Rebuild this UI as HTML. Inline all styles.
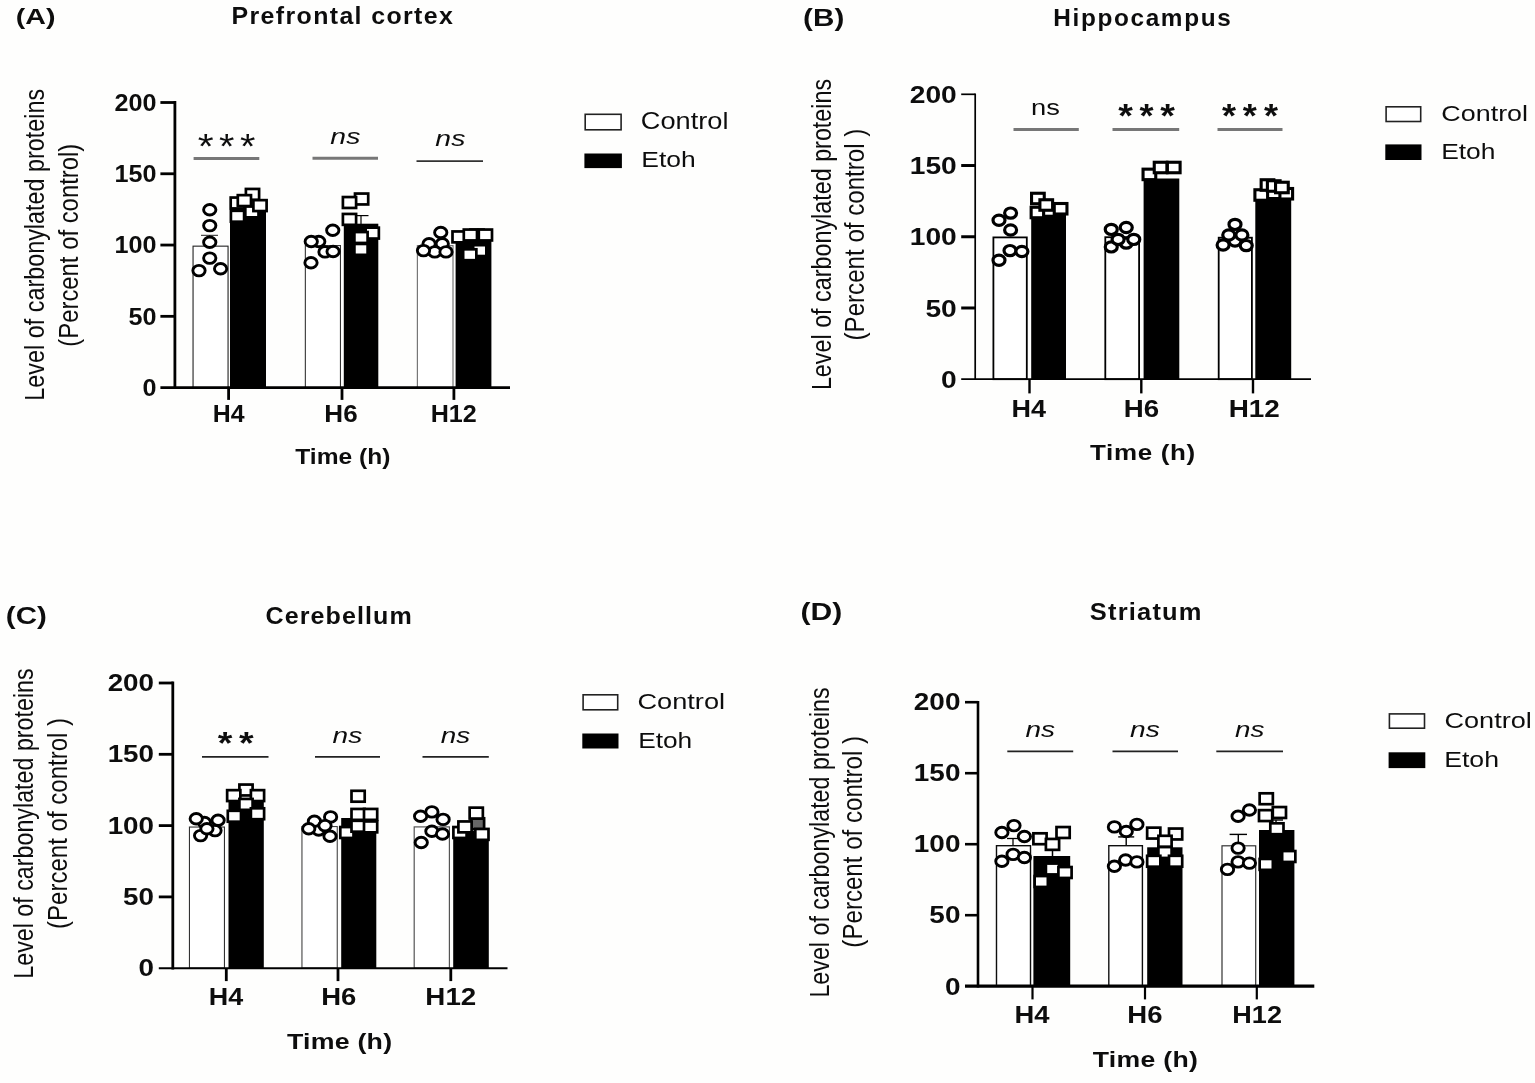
<!DOCTYPE html>
<html><head><meta charset="utf-8"><title>Level of carbonylated proteins</title>
<style>
html,body{margin:0;padding:0;background:#fefefd;}
body{width:1535px;height:1083px;overflow:hidden;}
svg{display:block;}
text{font-family:"Liberation Sans",sans-serif;font-size:100px;fill:#111;font-kerning:normal;}
text.b{font-weight:bold;}
text.i{font-style:italic;}
</style></head><body>
<svg width="1535" height="1083" viewBox="0 0 1535 1083">
<defs><filter id="soft" x="0" y="0" width="1535" height="1083" filterUnits="userSpaceOnUse"><feGaussianBlur stdDeviation="0.55"/></filter></defs>
<rect x="0" y="0" width="1535" height="1083" fill="#fefefd"/>
<g filter="url(#soft)">
<rect x="193.05" y="246.15" width="35.00" height="141.45" fill="#fff" stroke="#222" stroke-width="1.1"/>
<rect x="230.00" y="206.00" width="36.00" height="181.60" fill="#000" stroke="none" stroke-width="0"/>
<rect x="305.35" y="245.55" width="35.10" height="142.05" fill="#fff" stroke="#333" stroke-width="1.1"/>
<rect x="343.80" y="223.70" width="34.50" height="163.90" fill="#000" stroke="none" stroke-width="0"/>
<rect x="417.40" y="245.60" width="35.60" height="142.00" fill="#fff" stroke="#777" stroke-width="1.2"/>
<rect x="455.60" y="240.00" width="35.80" height="147.60" fill="#000" stroke="none" stroke-width="0"/>
<line x1="209.50" y1="235.30" x2="209.50" y2="245.60" stroke="#222" stroke-width="1.0" stroke-linecap="butt"/>
<line x1="201.00" y1="235.30" x2="218.00" y2="235.30" stroke="#222" stroke-width="1.0" stroke-linecap="butt"/>
<line x1="361.00" y1="215.60" x2="361.00" y2="224.00" stroke="#000" stroke-width="1.2" stroke-linecap="butt"/>
<line x1="353.50" y1="215.60" x2="368.50" y2="215.60" stroke="#000" stroke-width="1.2" stroke-linecap="butt"/>
<line x1="174.90" y1="101.10" x2="174.90" y2="389.00" stroke="#000" stroke-width="2.8" stroke-linecap="butt"/>
<line x1="160.40" y1="387.60" x2="510.00" y2="387.60" stroke="#000" stroke-width="2.8" stroke-linecap="butt"/>
<line x1="160.40" y1="316.33" x2="174.90" y2="316.33" stroke="#000" stroke-width="2.8" stroke-linecap="butt"/>
<line x1="160.40" y1="245.05" x2="174.90" y2="245.05" stroke="#000" stroke-width="2.8" stroke-linecap="butt"/>
<line x1="160.40" y1="173.77" x2="174.90" y2="173.77" stroke="#000" stroke-width="2.8" stroke-linecap="butt"/>
<line x1="160.40" y1="102.50" x2="174.90" y2="102.50" stroke="#000" stroke-width="2.8" stroke-linecap="butt"/>
<line x1="228.60" y1="387.60" x2="228.60" y2="399.90" stroke="#000" stroke-width="2.8" stroke-linecap="butt"/>
<line x1="342.00" y1="387.60" x2="342.00" y2="399.90" stroke="#000" stroke-width="2.8" stroke-linecap="butt"/>
<line x1="453.90" y1="387.60" x2="453.90" y2="399.90" stroke="#000" stroke-width="2.8" stroke-linecap="butt"/>
<ellipse cx="209.75" cy="209.75" rx="6.15" ry="5.25" fill="#fff" stroke="#000" stroke-width="2.9"/>
<ellipse cx="209.75" cy="225.60" rx="6.15" ry="5.25" fill="#fff" stroke="#000" stroke-width="2.9"/>
<ellipse cx="209.75" cy="242.25" rx="6.15" ry="5.25" fill="#fff" stroke="#000" stroke-width="2.9"/>
<ellipse cx="209.75" cy="258.10" rx="6.15" ry="5.25" fill="#fff" stroke="#000" stroke-width="2.9"/>
<ellipse cx="199.00" cy="270.60" rx="6.15" ry="5.25" fill="#fff" stroke="#000" stroke-width="2.9"/>
<ellipse cx="220.60" cy="268.75" rx="6.15" ry="5.25" fill="#fff" stroke="#000" stroke-width="2.9"/>
<rect x="230.70" y="197.55" width="13.20" height="10.90" fill="#fff" stroke="#000" stroke-width="2.7"/>
<rect x="245.30" y="206.45" width="13.20" height="10.90" fill="#fff" stroke="#000" stroke-width="2.7"/>
<rect x="245.90" y="188.95" width="13.20" height="10.90" fill="#fff" stroke="#000" stroke-width="2.7"/>
<rect x="237.80" y="195.15" width="13.20" height="10.90" fill="#fff" stroke="#000" stroke-width="2.7"/>
<rect x="253.40" y="200.15" width="13.20" height="10.90" fill="#fff" stroke="#000" stroke-width="2.7"/>
<rect x="230.90" y="210.80" width="13.20" height="10.90" fill="#fff" stroke="#000" stroke-width="2.7"/>
<ellipse cx="318.75" cy="241.50" rx="6.15" ry="5.25" fill="#fff" stroke="#000" stroke-width="2.9"/>
<ellipse cx="332.75" cy="230.25" rx="6.15" ry="5.25" fill="#fff" stroke="#000" stroke-width="2.9"/>
<ellipse cx="311.25" cy="241.50" rx="6.15" ry="5.25" fill="#fff" stroke="#000" stroke-width="2.9"/>
<ellipse cx="325.00" cy="251.90" rx="6.15" ry="5.25" fill="#fff" stroke="#000" stroke-width="2.9"/>
<ellipse cx="333.10" cy="251.50" rx="6.15" ry="5.25" fill="#fff" stroke="#000" stroke-width="2.9"/>
<ellipse cx="311.00" cy="262.75" rx="6.15" ry="5.25" fill="#fff" stroke="#000" stroke-width="2.9"/>
<rect x="355.00" y="193.55" width="13.20" height="10.90" fill="#fff" stroke="#000" stroke-width="2.7"/>
<rect x="342.90" y="197.05" width="13.20" height="10.90" fill="#fff" stroke="#000" stroke-width="2.7"/>
<rect x="342.90" y="213.95" width="13.20" height="10.90" fill="#fff" stroke="#000" stroke-width="2.7"/>
<rect x="365.65" y="227.65" width="13.20" height="10.90" fill="#fff" stroke="#000" stroke-width="2.7"/>
<rect x="354.40" y="232.05" width="13.20" height="10.90" fill="#fff" stroke="#000" stroke-width="2.7"/>
<rect x="354.40" y="243.95" width="13.20" height="10.90" fill="#fff" stroke="#000" stroke-width="2.7"/>
<ellipse cx="442.25" cy="243.75" rx="6.15" ry="5.25" fill="#fff" stroke="#000" stroke-width="2.9"/>
<ellipse cx="440.75" cy="232.50" rx="6.15" ry="5.25" fill="#fff" stroke="#000" stroke-width="2.9"/>
<ellipse cx="429.10" cy="243.75" rx="6.15" ry="5.25" fill="#fff" stroke="#000" stroke-width="2.9"/>
<ellipse cx="434.75" cy="251.90" rx="6.15" ry="5.25" fill="#fff" stroke="#000" stroke-width="2.9"/>
<ellipse cx="423.50" cy="250.60" rx="6.15" ry="5.25" fill="#fff" stroke="#000" stroke-width="2.9"/>
<ellipse cx="446.00" cy="251.90" rx="6.15" ry="5.25" fill="#fff" stroke="#000" stroke-width="2.9"/>
<rect x="452.50" y="231.45" width="13.20" height="10.90" fill="#fff" stroke="#000" stroke-width="2.7"/>
<rect x="470.40" y="229.55" width="13.20" height="10.90" fill="#fff" stroke="#000" stroke-width="2.7"/>
<rect x="463.80" y="229.55" width="13.20" height="10.90" fill="#fff" stroke="#000" stroke-width="2.7"/>
<rect x="478.80" y="229.55" width="13.20" height="10.90" fill="#fff" stroke="#000" stroke-width="2.7"/>
<rect x="473.15" y="245.15" width="13.20" height="10.90" fill="#fff" stroke="#000" stroke-width="2.7"/>
<rect x="463.15" y="249.30" width="13.20" height="10.90" fill="#fff" stroke="#000" stroke-width="2.7"/>
<line x1="193.60" y1="158.50" x2="259.30" y2="158.50" stroke="#777" stroke-width="3" stroke-linecap="butt"/>
<line x1="312.50" y1="158.30" x2="378.00" y2="158.30" stroke="#777" stroke-width="3" stroke-linecap="butt"/>
<line x1="416.50" y1="161.20" x2="483.00" y2="161.20" stroke="#333" stroke-width="1.8" stroke-linecap="butt"/>
<rect x="585.20" y="114.30" width="35.90" height="15.50" fill="#fff" stroke="#222" stroke-width="1.6"/>
<rect x="584.40" y="153.50" width="37.50" height="14.60" fill="#000" stroke="none" stroke-width="0"/>
<text transform="translate(15.86,23.56) scale(0.2858,0.2214)" class="b">(A)</text>
<text transform="translate(231.54,24.23) scale(0.2492,0.2373)" letter-spacing="5.49" class="b">Prefrontal cortex</text>
<text transform="translate(212.75,422.40) scale(0.2487,0.2361)" class="b">H4</text>
<text transform="translate(324.37,422.40) scale(0.2603,0.2361)" class="b">H6</text>
<text transform="translate(430.73,422.40) scale(0.2513,0.2361)" class="b">H12</text>
<text transform="translate(295.30,464.07) scale(0.2457,0.2256)" class="b">Time (h)</text>
<text transform="translate(197.66,157.55) scale(0.4090,0.3520)">*</text>
<text transform="translate(218.88,157.55) scale(0.3951,0.3520)">*</text>
<text transform="translate(240.08,157.55) scale(0.3951,0.3520)">*</text>
<text transform="translate(330.36,144.05) scale(0.2839,0.2240)" class="i">ns</text>
<text transform="translate(435.36,145.95) scale(0.2839,0.2258)" class="i">ns</text>
<text transform="translate(640.83,129.44) scale(0.2720,0.2320)">Control</text>
<text transform="translate(641.23,167.16) scale(0.2647,0.2147)">Etoh</text>
<text transform="translate(43.70,400.63) rotate(-90) scale(0.2338,0.2785)">Level of carbonylated proteins</text>
<text transform="translate(77.50,346.72) rotate(-90) scale(0.2388,0.2757)">(Percent of control)</text>
<text transform="translate(114.51,110.63) scale(0.2518,0.2365)" class="b">200</text>
<text transform="translate(114.51,182.13) scale(0.2518,0.2365)" class="b">150</text>
<text transform="translate(114.51,253.43) scale(0.2518,0.2365)" class="b">100</text>
<text transform="translate(128.52,325.13) scale(0.2518,0.2365)" class="b">50</text>
<text transform="translate(142.52,395.73) scale(0.2518,0.2365)" class="b">0</text>
<rect x="993.40" y="237.40" width="33.40" height="141.80" fill="#fff" stroke="#000" stroke-width="1.8"/>
<rect x="1031.20" y="210.00" width="34.80" height="169.20" fill="#000" stroke="none" stroke-width="0"/>
<rect x="1105.30" y="237.20" width="33.80" height="142.00" fill="#fff" stroke="#000" stroke-width="1.8"/>
<rect x="1143.60" y="178.50" width="35.70" height="200.70" fill="#000" stroke="none" stroke-width="0"/>
<rect x="1218.70" y="237.70" width="33.20" height="141.50" fill="#fff" stroke="#000" stroke-width="1.8"/>
<rect x="1255.30" y="197.00" width="35.90" height="182.20" fill="#000" stroke="none" stroke-width="0"/>
<line x1="975.20" y1="93.45" x2="975.20" y2="380.05" stroke="#000" stroke-width="1.7" stroke-linecap="butt"/>
<line x1="961.20" y1="379.20" x2="1311.00" y2="379.20" stroke="#000" stroke-width="1.7" stroke-linecap="butt"/>
<line x1="961.20" y1="307.98" x2="975.20" y2="307.98" stroke="#000" stroke-width="3" stroke-linecap="butt"/>
<line x1="961.20" y1="236.75" x2="975.20" y2="236.75" stroke="#000" stroke-width="3" stroke-linecap="butt"/>
<line x1="961.20" y1="165.53" x2="975.20" y2="165.53" stroke="#000" stroke-width="3" stroke-linecap="butt"/>
<line x1="961.20" y1="94.30" x2="975.20" y2="94.30" stroke="#000" stroke-width="1.7" stroke-linecap="butt"/>
<line x1="1029.50" y1="379.20" x2="1029.50" y2="393.40" stroke="#000" stroke-width="2.4" stroke-linecap="butt"/>
<line x1="1141.30" y1="379.20" x2="1141.30" y2="393.40" stroke="#000" stroke-width="2.4" stroke-linecap="butt"/>
<line x1="1253.00" y1="379.20" x2="1253.00" y2="393.40" stroke="#000" stroke-width="2.4" stroke-linecap="butt"/>
<ellipse cx="1010.60" cy="213.10" rx="6.00" ry="5.10" fill="#fff" stroke="#000" stroke-width="3.2"/>
<ellipse cx="999.00" cy="220.25" rx="6.00" ry="5.10" fill="#fff" stroke="#000" stroke-width="3.2"/>
<ellipse cx="1010.60" cy="230.00" rx="6.00" ry="5.10" fill="#fff" stroke="#000" stroke-width="3.2"/>
<ellipse cx="1010.00" cy="250.60" rx="6.00" ry="5.10" fill="#fff" stroke="#000" stroke-width="3.2"/>
<ellipse cx="1021.90" cy="251.50" rx="6.00" ry="5.10" fill="#fff" stroke="#000" stroke-width="3.2"/>
<ellipse cx="999.00" cy="260.25" rx="6.00" ry="5.10" fill="#fff" stroke="#000" stroke-width="3.2"/>
<rect x="1031.15" y="207.25" width="12.70" height="10.50" fill="#fff" stroke="#000" stroke-width="3.1"/>
<rect x="1043.65" y="205.75" width="12.70" height="10.50" fill="#fff" stroke="#000" stroke-width="3.1"/>
<rect x="1031.55" y="193.25" width="12.70" height="10.50" fill="#fff" stroke="#000" stroke-width="3.1"/>
<rect x="1039.90" y="199.75" width="12.70" height="10.50" fill="#fff" stroke="#000" stroke-width="3.1"/>
<rect x="1054.25" y="203.50" width="12.70" height="10.50" fill="#fff" stroke="#000" stroke-width="3.1"/>
<ellipse cx="1126.25" cy="243.10" rx="6.00" ry="5.10" fill="#fff" stroke="#000" stroke-width="3.2"/>
<ellipse cx="1111.25" cy="246.90" rx="6.00" ry="5.10" fill="#fff" stroke="#000" stroke-width="3.2"/>
<ellipse cx="1133.75" cy="239.40" rx="6.00" ry="5.10" fill="#fff" stroke="#000" stroke-width="3.2"/>
<ellipse cx="1111.25" cy="229.40" rx="6.00" ry="5.10" fill="#fff" stroke="#000" stroke-width="3.2"/>
<ellipse cx="1126.25" cy="227.50" rx="6.00" ry="5.10" fill="#fff" stroke="#000" stroke-width="3.2"/>
<ellipse cx="1118.10" cy="239.40" rx="6.00" ry="5.10" fill="#fff" stroke="#000" stroke-width="3.2"/>
<rect x="1143.05" y="169.15" width="12.70" height="10.50" fill="#fff" stroke="#000" stroke-width="3.1"/>
<rect x="1154.25" y="162.25" width="12.70" height="10.50" fill="#fff" stroke="#000" stroke-width="3.1"/>
<rect x="1167.40" y="162.25" width="12.70" height="10.50" fill="#fff" stroke="#000" stroke-width="3.1"/>
<ellipse cx="1235.00" cy="241.00" rx="6.00" ry="5.10" fill="#fff" stroke="#000" stroke-width="3.2"/>
<ellipse cx="1223.10" cy="245.00" rx="6.00" ry="5.10" fill="#fff" stroke="#000" stroke-width="3.2"/>
<ellipse cx="1246.25" cy="245.60" rx="6.00" ry="5.10" fill="#fff" stroke="#000" stroke-width="3.2"/>
<ellipse cx="1228.75" cy="235.00" rx="6.00" ry="5.10" fill="#fff" stroke="#000" stroke-width="3.2"/>
<ellipse cx="1241.90" cy="235.00" rx="6.00" ry="5.10" fill="#fff" stroke="#000" stroke-width="3.2"/>
<ellipse cx="1235.00" cy="224.40" rx="6.00" ry="5.10" fill="#fff" stroke="#000" stroke-width="3.2"/>
<rect x="1254.90" y="189.75" width="12.70" height="10.50" fill="#fff" stroke="#000" stroke-width="3.1"/>
<rect x="1279.90" y="188.50" width="12.70" height="10.50" fill="#fff" stroke="#000" stroke-width="3.1"/>
<rect x="1261.15" y="179.75" width="12.70" height="10.50" fill="#fff" stroke="#000" stroke-width="3.1"/>
<rect x="1267.40" y="180.75" width="12.70" height="10.50" fill="#fff" stroke="#000" stroke-width="3.1"/>
<rect x="1275.55" y="182.25" width="12.70" height="10.50" fill="#fff" stroke="#000" stroke-width="3.1"/>
<line x1="1013.50" y1="129.60" x2="1078.80" y2="129.60" stroke="#777" stroke-width="3" stroke-linecap="butt"/>
<line x1="1112.50" y1="129.60" x2="1179.20" y2="129.60" stroke="#777" stroke-width="3" stroke-linecap="butt"/>
<line x1="1217.50" y1="129.60" x2="1282.50" y2="129.60" stroke="#777" stroke-width="3" stroke-linecap="butt"/>
<rect x="1386.10" y="106.80" width="34.60" height="14.70" fill="#fff" stroke="#222" stroke-width="1.6"/>
<rect x="1385.30" y="144.40" width="36.20" height="15.60" fill="#000" stroke="none" stroke-width="0"/>
<text transform="translate(803.11,26.28) scale(0.2965,0.2434)" class="b">(B)</text>
<text transform="translate(1053.28,25.53) scale(0.2435,0.2319)" letter-spacing="6.79" class="b">Hippocampus</text>
<text transform="translate(1011.61,416.60) scale(0.2700,0.2418)" class="b">H4</text>
<text transform="translate(1123.77,416.60) scale(0.2771,0.2418)" class="b">H6</text>
<text transform="translate(1228.65,416.60) scale(0.2793,0.2418)" class="b">H12</text>
<text transform="translate(1090.00,460.08) scale(0.2600,0.2203)" letter-spacing="2.59" class="b">Time (h)</text>
<text transform="translate(1030.99,115.05) scale(0.2733,0.2258)">ns</text>
<text transform="translate(1118.30,127.46) scale(0.3763,0.3251)" class="b">*</text>
<text transform="translate(1139.50,127.46) scale(0.3610,0.3251)" class="b">*</text>
<text transform="translate(1160.20,127.46) scale(0.3763,0.3251)" class="b">*</text>
<text transform="translate(1222.00,127.46) scale(0.3610,0.3251)" class="b">*</text>
<text transform="translate(1242.70,127.46) scale(0.3610,0.3251)" class="b">*</text>
<text transform="translate(1263.90,127.46) scale(0.3610,0.3251)" class="b">*</text>
<text transform="translate(1441.34,120.54) scale(0.2691,0.2293)">Control</text>
<text transform="translate(1441.14,158.95) scale(0.2642,0.2213)">Etoh</text>
<text transform="translate(831.10,390.12) rotate(-90) scale(0.2334,0.2757)">Level of carbonylated proteins</text>
<text transform="translate(864.00,340.43) rotate(-90) scale(0.2412,0.2757)">(Percent of control )</text>
<text transform="translate(909.72,102.81) scale(0.2818,0.2477)" class="b">200</text>
<text transform="translate(909.72,174.11) scale(0.2818,0.2477)" class="b">150</text>
<text transform="translate(909.72,245.31) scale(0.2818,0.2477)" class="b">100</text>
<text transform="translate(925.39,316.51) scale(0.2818,0.2477)" class="b">50</text>
<text transform="translate(941.07,387.81) scale(0.2818,0.2477)" class="b">0</text>
<rect x="189.45" y="827.05" width="35.00" height="141.15" fill="#fff" stroke="#333" stroke-width="1.1"/>
<rect x="228.50" y="801.00" width="35.30" height="167.20" fill="#000" stroke="none" stroke-width="0"/>
<rect x="301.95" y="826.55" width="35.30" height="141.65" fill="#fff" stroke="#444" stroke-width="1.1"/>
<rect x="341.20" y="818.00" width="35.10" height="150.20" fill="#000" stroke="none" stroke-width="0"/>
<rect x="414.20" y="826.90" width="35.20" height="141.30" fill="#fff" stroke="#555" stroke-width="1.2"/>
<rect x="453.20" y="831.00" width="35.60" height="137.20" fill="#000" stroke="none" stroke-width="0"/>
<line x1="172.80" y1="681.60" x2="172.80" y2="969.60" stroke="#000" stroke-width="2.8" stroke-linecap="butt"/>
<line x1="158.80" y1="968.20" x2="507.50" y2="968.20" stroke="#000" stroke-width="2.0" stroke-linecap="butt"/>
<line x1="158.80" y1="896.90" x2="172.80" y2="896.90" stroke="#000" stroke-width="2.8" stroke-linecap="butt"/>
<line x1="158.80" y1="825.60" x2="172.80" y2="825.60" stroke="#000" stroke-width="2.8" stroke-linecap="butt"/>
<line x1="158.80" y1="754.30" x2="172.80" y2="754.30" stroke="#000" stroke-width="2.8" stroke-linecap="butt"/>
<line x1="158.80" y1="683.00" x2="172.80" y2="683.00" stroke="#000" stroke-width="2.8" stroke-linecap="butt"/>
<line x1="226.30" y1="968.20" x2="226.30" y2="981.10" stroke="#000" stroke-width="2.8" stroke-linecap="butt"/>
<line x1="338.00" y1="968.20" x2="338.00" y2="981.10" stroke="#000" stroke-width="2.8" stroke-linecap="butt"/>
<line x1="450.80" y1="968.20" x2="450.80" y2="981.10" stroke="#000" stroke-width="2.8" stroke-linecap="butt"/>
<ellipse cx="215.00" cy="830.60" rx="6.15" ry="5.25" fill="#fff" stroke="#000" stroke-width="2.9"/>
<ellipse cx="204.40" cy="822.50" rx="6.15" ry="5.25" fill="#fff" stroke="#000" stroke-width="2.9"/>
<ellipse cx="200.60" cy="835.60" rx="6.15" ry="5.25" fill="#fff" stroke="#000" stroke-width="2.9"/>
<ellipse cx="196.25" cy="818.75" rx="6.15" ry="5.25" fill="#fff" stroke="#000" stroke-width="2.9"/>
<ellipse cx="218.10" cy="820.25" rx="6.15" ry="5.25" fill="#fff" stroke="#000" stroke-width="2.9"/>
<ellipse cx="206.90" cy="828.75" rx="6.15" ry="5.25" fill="#fff" stroke="#000" stroke-width="2.9"/>
<rect x="239.40" y="784.55" width="13.20" height="10.90" fill="#fff" stroke="#000" stroke-width="2.7"/>
<rect x="227.15" y="790.15" width="13.20" height="10.90" fill="#fff" stroke="#000" stroke-width="2.7"/>
<rect x="250.90" y="790.15" width="13.20" height="10.90" fill="#fff" stroke="#000" stroke-width="2.7"/>
<rect x="239.40" y="798.95" width="13.20" height="10.90" fill="#fff" stroke="#000" stroke-width="2.7"/>
<rect x="227.80" y="810.80" width="13.20" height="10.90" fill="#fff" stroke="#000" stroke-width="2.7"/>
<rect x="250.90" y="808.30" width="13.20" height="10.90" fill="#fff" stroke="#000" stroke-width="2.7"/>
<ellipse cx="318.75" cy="830.00" rx="6.15" ry="5.25" fill="#fff" stroke="#000" stroke-width="2.9"/>
<ellipse cx="314.40" cy="821.25" rx="6.15" ry="5.25" fill="#fff" stroke="#000" stroke-width="2.9"/>
<ellipse cx="308.75" cy="828.75" rx="6.15" ry="5.25" fill="#fff" stroke="#000" stroke-width="2.9"/>
<ellipse cx="330.60" cy="816.90" rx="6.15" ry="5.25" fill="#fff" stroke="#000" stroke-width="2.9"/>
<ellipse cx="330.00" cy="836.25" rx="6.15" ry="5.25" fill="#fff" stroke="#000" stroke-width="2.9"/>
<ellipse cx="325.00" cy="825.60" rx="6.15" ry="5.25" fill="#fff" stroke="#000" stroke-width="2.9"/>
<rect x="340.30" y="827.05" width="13.20" height="10.90" fill="#fff" stroke="#000" stroke-width="2.7"/>
<rect x="351.50" y="790.80" width="13.20" height="10.90" fill="#fff" stroke="#000" stroke-width="2.7"/>
<rect x="351.50" y="808.95" width="13.20" height="10.90" fill="#fff" stroke="#000" stroke-width="2.7"/>
<rect x="364.00" y="808.95" width="13.20" height="10.90" fill="#fff" stroke="#000" stroke-width="2.7"/>
<rect x="351.50" y="820.80" width="13.20" height="10.90" fill="#fff" stroke="#000" stroke-width="2.7"/>
<rect x="364.00" y="821.45" width="13.20" height="10.90" fill="#fff" stroke="#000" stroke-width="2.7"/>
<ellipse cx="431.90" cy="811.90" rx="6.15" ry="5.25" fill="#fff" stroke="#000" stroke-width="2.9"/>
<ellipse cx="420.60" cy="816.25" rx="6.15" ry="5.25" fill="#fff" stroke="#000" stroke-width="2.9"/>
<ellipse cx="443.10" cy="819.40" rx="6.15" ry="5.25" fill="#fff" stroke="#000" stroke-width="2.9"/>
<ellipse cx="431.90" cy="831.25" rx="6.15" ry="5.25" fill="#fff" stroke="#000" stroke-width="2.9"/>
<ellipse cx="442.50" cy="834.00" rx="6.15" ry="5.25" fill="#fff" stroke="#000" stroke-width="2.9"/>
<ellipse cx="421.25" cy="842.50" rx="6.15" ry="5.25" fill="#fff" stroke="#000" stroke-width="2.9"/>
<rect x="453.40" y="827.05" width="13.20" height="10.90" fill="#fff" stroke="#000" stroke-width="2.7"/>
<rect x="470.90" y="818.30" width="13.20" height="10.90" fill="#666" stroke="#000" stroke-width="2.7"/>
<rect x="469.65" y="807.65" width="13.20" height="10.90" fill="#fff" stroke="#000" stroke-width="2.7"/>
<rect x="458.40" y="821.45" width="13.20" height="10.90" fill="#fff" stroke="#000" stroke-width="2.7"/>
<rect x="475.30" y="828.95" width="13.20" height="10.90" fill="#fff" stroke="#000" stroke-width="2.7"/>
<line x1="202.00" y1="756.90" x2="268.50" y2="756.90" stroke="#222" stroke-width="1.8" stroke-linecap="butt"/>
<line x1="315.00" y1="756.90" x2="380.00" y2="756.90" stroke="#222" stroke-width="1.8" stroke-linecap="butt"/>
<line x1="422.50" y1="756.90" x2="488.80" y2="756.90" stroke="#222" stroke-width="1.8" stroke-linecap="butt"/>
<rect x="583.10" y="694.80" width="34.60" height="15.00" fill="#fff" stroke="#222" stroke-width="1.6"/>
<rect x="582.30" y="733.50" width="36.20" height="15.00" fill="#000" stroke="none" stroke-width="0"/>
<text transform="translate(5.82,623.56) scale(0.2950,0.2350)" class="b">(C)</text>
<text transform="translate(265.62,623.63) scale(0.2506,0.2387)" letter-spacing="4.27" class="b">Cerebellum</text>
<text transform="translate(208.82,1005.20) scale(0.2692,0.2389)" class="b">H4</text>
<text transform="translate(321.18,1005.20) scale(0.2746,0.2389)" class="b">H6</text>
<text transform="translate(425.36,1005.20) scale(0.2776,0.2389)" class="b">H12</text>
<text transform="translate(286.90,1048.64) scale(0.2674,0.2266)" letter-spacing="0.94" class="b">Time (h)</text>
<text transform="translate(217.70,754.48) scale(0.3763,0.3098)" class="b">*</text>
<text transform="translate(238.90,754.48) scale(0.3763,0.3098)" class="b">*</text>
<text transform="translate(332.56,742.94) scale(0.2810,0.2293)" class="i">ns</text>
<text transform="translate(440.76,742.94) scale(0.2791,0.2293)" class="i">ns</text>
<text transform="translate(637.43,708.95) scale(0.2720,0.2253)">Control</text>
<text transform="translate(638.14,747.65) scale(0.2632,0.2213)">Etoh</text>
<text transform="translate(33.40,978.72) rotate(-90) scale(0.2327,0.2771)">Level of carbonylated proteins</text>
<text transform="translate(66.70,928.93) rotate(-90) scale(0.2405,0.2785)">(Percent of control )</text>
<text transform="translate(107.63,690.88) scale(0.2781,0.2351)" class="b">200</text>
<text transform="translate(107.63,762.28) scale(0.2781,0.2351)" class="b">150</text>
<text transform="translate(107.63,833.58) scale(0.2781,0.2351)" class="b">100</text>
<text transform="translate(123.10,904.78) scale(0.2781,0.2351)" class="b">50</text>
<text transform="translate(138.56,976.18) scale(0.2781,0.2351)" class="b">0</text>
<rect x="996.50" y="845.70" width="34.00" height="140.50" fill="#fff" stroke="#111" stroke-width="1.4"/>
<rect x="1033.40" y="856.00" width="36.80" height="130.20" fill="#000" stroke="none" stroke-width="0"/>
<rect x="1108.80" y="845.70" width="33.60" height="140.50" fill="#fff" stroke="#111" stroke-width="1.4"/>
<rect x="1147.20" y="847.30" width="35.30" height="138.90" fill="#000" stroke="none" stroke-width="0"/>
<rect x="1222.00" y="845.80" width="33.70" height="140.40" fill="#fff" stroke="#333" stroke-width="1.2"/>
<rect x="1259.00" y="830.00" width="35.40" height="156.20" fill="#000" stroke="none" stroke-width="0"/>
<line x1="1013.00" y1="838.50" x2="1013.00" y2="845.00" stroke="#000" stroke-width="1.3" stroke-linecap="butt"/>
<line x1="1007.00" y1="838.50" x2="1019.00" y2="838.50" stroke="#000" stroke-width="1.3" stroke-linecap="butt"/>
<line x1="1052.50" y1="849.00" x2="1052.50" y2="856.00" stroke="#000" stroke-width="1.5" stroke-linecap="butt"/>
<line x1="1045.50" y1="849.00" x2="1059.50" y2="849.00" stroke="#000" stroke-width="1.5" stroke-linecap="butt"/>
<line x1="1126.20" y1="836.90" x2="1126.20" y2="845.00" stroke="#000" stroke-width="1.4" stroke-linecap="butt"/>
<line x1="1118.20" y1="836.90" x2="1134.20" y2="836.90" stroke="#000" stroke-width="1.4" stroke-linecap="butt"/>
<line x1="1238.30" y1="834.40" x2="1238.30" y2="845.20" stroke="#000" stroke-width="1.4" stroke-linecap="butt"/>
<line x1="1229.60" y1="834.40" x2="1247.00" y2="834.40" stroke="#000" stroke-width="1.4" stroke-linecap="butt"/>
<line x1="1276.00" y1="820.00" x2="1276.00" y2="830.00" stroke="#000" stroke-width="1.4" stroke-linecap="butt"/>
<line x1="1269.00" y1="820.00" x2="1283.00" y2="820.00" stroke="#000" stroke-width="1.4" stroke-linecap="butt"/>
<line x1="978.00" y1="700.90" x2="978.00" y2="987.50" stroke="#000" stroke-width="2.6" stroke-linecap="butt"/>
<line x1="965.00" y1="986.20" x2="1314.30" y2="986.20" stroke="#000" stroke-width="3.3" stroke-linecap="butt"/>
<line x1="965.00" y1="915.20" x2="978.00" y2="915.20" stroke="#000" stroke-width="2.6" stroke-linecap="butt"/>
<line x1="965.00" y1="844.20" x2="978.00" y2="844.20" stroke="#000" stroke-width="2.6" stroke-linecap="butt"/>
<line x1="965.00" y1="773.20" x2="978.00" y2="773.20" stroke="#000" stroke-width="2.6" stroke-linecap="butt"/>
<line x1="965.00" y1="702.20" x2="978.00" y2="702.20" stroke="#000" stroke-width="2.6" stroke-linecap="butt"/>
<line x1="1032.50" y1="986.20" x2="1032.50" y2="999.40" stroke="#000" stroke-width="2.2" stroke-linecap="butt"/>
<line x1="1145.00" y1="986.20" x2="1145.00" y2="999.40" stroke="#000" stroke-width="2.2" stroke-linecap="butt"/>
<line x1="1256.80" y1="986.20" x2="1256.80" y2="999.40" stroke="#000" stroke-width="2.2" stroke-linecap="butt"/>
<ellipse cx="1014.00" cy="825.60" rx="6.15" ry="5.25" fill="#fff" stroke="#000" stroke-width="2.9"/>
<ellipse cx="1001.90" cy="832.50" rx="6.15" ry="5.25" fill="#fff" stroke="#000" stroke-width="2.9"/>
<ellipse cx="1024.40" cy="836.50" rx="6.15" ry="5.25" fill="#fff" stroke="#000" stroke-width="2.9"/>
<ellipse cx="1013.10" cy="854.40" rx="6.15" ry="5.25" fill="#fff" stroke="#000" stroke-width="2.9"/>
<ellipse cx="1024.40" cy="857.50" rx="6.15" ry="5.25" fill="#fff" stroke="#000" stroke-width="2.9"/>
<ellipse cx="1001.90" cy="861.25" rx="6.15" ry="5.25" fill="#fff" stroke="#000" stroke-width="2.9"/>
<rect x="1033.40" y="833.30" width="13.20" height="10.90" fill="#fff" stroke="#000" stroke-width="2.7"/>
<rect x="1056.50" y="827.05" width="13.20" height="10.90" fill="#fff" stroke="#000" stroke-width="2.7"/>
<rect x="1045.90" y="838.95" width="13.20" height="10.90" fill="#fff" stroke="#000" stroke-width="2.7"/>
<rect x="1045.90" y="863.55" width="13.20" height="10.90" fill="#fff" stroke="#000" stroke-width="2.7"/>
<rect x="1058.40" y="867.05" width="13.20" height="10.90" fill="#fff" stroke="#000" stroke-width="2.7"/>
<rect x="1034.65" y="876.05" width="13.20" height="10.90" fill="#fff" stroke="#000" stroke-width="2.7"/>
<ellipse cx="1136.90" cy="824.40" rx="6.15" ry="5.25" fill="#fff" stroke="#000" stroke-width="2.9"/>
<ellipse cx="1114.40" cy="826.90" rx="6.15" ry="5.25" fill="#fff" stroke="#000" stroke-width="2.9"/>
<ellipse cx="1126.25" cy="831.50" rx="6.15" ry="5.25" fill="#fff" stroke="#000" stroke-width="2.9"/>
<ellipse cx="1125.60" cy="860.00" rx="6.15" ry="5.25" fill="#fff" stroke="#000" stroke-width="2.9"/>
<ellipse cx="1136.90" cy="861.90" rx="6.15" ry="5.25" fill="#fff" stroke="#000" stroke-width="2.9"/>
<ellipse cx="1114.40" cy="866.25" rx="6.15" ry="5.25" fill="#fff" stroke="#000" stroke-width="2.9"/>
<rect x="1147.15" y="827.65" width="13.20" height="10.90" fill="#fff" stroke="#000" stroke-width="2.7"/>
<rect x="1169.00" y="828.55" width="13.20" height="10.90" fill="#fff" stroke="#000" stroke-width="2.7"/>
<rect x="1158.40" y="847.05" width="13.20" height="10.90" fill="#fff" stroke="#000" stroke-width="2.7"/>
<rect x="1158.40" y="835.80" width="13.20" height="10.90" fill="#fff" stroke="#000" stroke-width="2.7"/>
<rect x="1147.15" y="855.80" width="13.20" height="10.90" fill="#fff" stroke="#000" stroke-width="2.7"/>
<rect x="1169.00" y="855.80" width="13.20" height="10.90" fill="#fff" stroke="#000" stroke-width="2.7"/>
<ellipse cx="1249.40" cy="810.00" rx="6.15" ry="5.25" fill="#fff" stroke="#000" stroke-width="2.9"/>
<ellipse cx="1238.10" cy="816.25" rx="6.15" ry="5.25" fill="#fff" stroke="#000" stroke-width="2.9"/>
<ellipse cx="1238.10" cy="861.90" rx="6.15" ry="5.25" fill="#fff" stroke="#000" stroke-width="2.9"/>
<ellipse cx="1238.10" cy="848.10" rx="6.15" ry="5.25" fill="#fff" stroke="#000" stroke-width="2.9"/>
<ellipse cx="1249.40" cy="863.10" rx="6.15" ry="5.25" fill="#fff" stroke="#000" stroke-width="2.9"/>
<ellipse cx="1227.50" cy="869.40" rx="6.15" ry="5.25" fill="#fff" stroke="#000" stroke-width="2.9"/>
<rect x="1259.65" y="793.30" width="13.20" height="10.90" fill="#fff" stroke="#000" stroke-width="2.7"/>
<rect x="1259.00" y="810.15" width="13.20" height="10.90" fill="#fff" stroke="#000" stroke-width="2.7"/>
<rect x="1272.80" y="807.05" width="13.20" height="10.90" fill="#fff" stroke="#000" stroke-width="2.7"/>
<rect x="1270.30" y="823.30" width="13.20" height="10.90" fill="#fff" stroke="#000" stroke-width="2.7"/>
<rect x="1259.65" y="858.95" width="13.20" height="10.90" fill="#fff" stroke="#000" stroke-width="2.7"/>
<rect x="1282.15" y="851.05" width="13.20" height="10.90" fill="#fff" stroke="#000" stroke-width="2.7"/>
<line x1="1007.30" y1="751.30" x2="1073.20" y2="751.30" stroke="#222" stroke-width="1.8" stroke-linecap="butt"/>
<line x1="1112.50" y1="751.30" x2="1178.00" y2="751.30" stroke="#222" stroke-width="1.8" stroke-linecap="butt"/>
<line x1="1216.30" y1="751.30" x2="1283.00" y2="751.30" stroke="#222" stroke-width="1.8" stroke-linecap="butt"/>
<rect x="1389.40" y="713.90" width="35.10" height="14.30" fill="#fff" stroke="#222" stroke-width="1.6"/>
<rect x="1388.60" y="752.30" width="36.70" height="15.80" fill="#000" stroke="none" stroke-width="0"/>
<text transform="translate(800.59,620.29) scale(0.3003,0.2382)" class="b">(D)</text>
<text transform="translate(1089.80,620.22) scale(0.2548,0.2427)" letter-spacing="4.71" class="b">Striatum</text>
<text transform="translate(1014.49,1023.20) scale(0.2733,0.2418)" class="b">H4</text>
<text transform="translate(1127.28,1023.20) scale(0.2754,0.2418)" class="b">H6</text>
<text transform="translate(1232.31,1023.20) scale(0.2707,0.2418)" class="b">H12</text>
<text transform="translate(1092.80,1066.87) scale(0.2662,0.2256)" letter-spacing="1.15" class="b">Time (h)</text>
<text transform="translate(1025.46,736.85) scale(0.2800,0.2258)" class="i">ns</text>
<text transform="translate(1130.06,736.85) scale(0.2820,0.2258)" class="i">ns</text>
<text transform="translate(1234.97,736.85) scale(0.2781,0.2258)" class="i">ns</text>
<text transform="translate(1444.43,728.24) scale(0.2710,0.2293)">Control</text>
<text transform="translate(1444.22,766.75) scale(0.2663,0.2253)">Etoh</text>
<text transform="translate(828.60,997.62) rotate(-90) scale(0.2327,0.2798)">Level of carbonylated proteins</text>
<text transform="translate(861.90,947.63) rotate(-90) scale(0.2412,0.2716)">(Percent of control )</text>
<text transform="translate(913.83,710.33) scale(0.2793,0.2393)" class="b">200</text>
<text transform="translate(913.83,781.43) scale(0.2793,0.2393)" class="b">150</text>
<text transform="translate(913.83,852.43) scale(0.2793,0.2393)" class="b">100</text>
<text transform="translate(929.36,923.43) scale(0.2793,0.2393)" class="b">50</text>
<text transform="translate(944.90,994.53) scale(0.2793,0.2393)" class="b">0</text>
</g>
</svg>
</body></html>
